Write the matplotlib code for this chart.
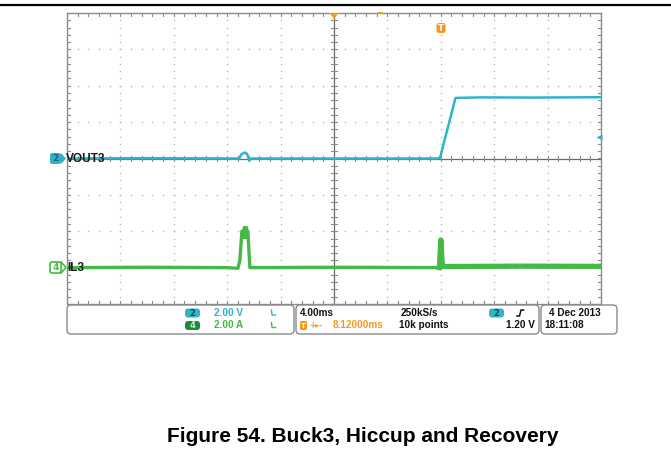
import matplotlib
matplotlib.use("Agg")
import matplotlib.pyplot as plt
from matplotlib.patches import FancyBboxPatch, Polygon
import numpy as np

# ---------------- data (read from the scope capture) ----------------
# time axis: 4 ms/div, 10 divisions
time_div_ms = 4.0
n_xdiv = 10
n_ydiv = 8

# Channel 2: VOUT3, 2 V/div, ground at centre line
vout_t = [0.0, 6.0, 12.9, 13.05, 13.3, 13.5, 13.65, 13.8, 20.0, 27.75, 27.95, 29.1, 31.0, 35.0, 40.0]
vout_v = [0.0, 0.02, 0.0, 0.22, 0.33, 0.25, -0.12, 0.0, 0.0, 0.0, 0.06, 3.33, 3.36, 3.35, 3.37]
vout_vdiv = 2.0
vout_offset_div = 0.0

# Channel 4: IL3, 2 A/div, ground 3 divisions below centre
il_t = [0.0, 6.0, 12.0, 12.8, 12.95, 13.1, 13.55, 13.7, 20.0, 27.9, 28.0, 28.12, 28.3, 34.0, 40.0]
il_a = [0.0, 0.02, 0.0, -0.04, 0.4, 2.0, 1.95, 0.0, 0.02, 0.0, 1.52, 0.08, 0.06, 0.08, 0.07]
il_band_t = [13.05, 13.15, 13.5, 13.58]
il_band_lo = [1.3, 1.6, 1.6, 1.4]
il_band_hi = [2.0, 2.32, 2.3, 2.1]
il_adiv = 2.0
il_offset_div = -3.0

trig_level_v = 1.20

# status bar texts
ch_scales = ["2.00 V", "2.00 A"]
timebase = "4.00ms"
sample_rate = "250kS/s"
delay = "8.12000ms"
record = "10k points"
trig_text = "1.20 V"
date_text = "4 Dec 2013"
time_text = "18:11:08"
caption = "Figure 54. Buck3, Hiccup and Recovery"

# ---------------- figure ----------------
W, H = 671, 470
fig = plt.figure(figsize=(W / 100, H / 100), dpi=100)
fig.patch.set_facecolor("white")

cyan = "#2fb4c9"
green = "#45b945"
orange = "#f39a1e"
tickc = "#8c8c8c"

L, R, T, B = 67, 601, 13, 304
ax = fig.add_axes([L / W, 1 - B / H, (R - L) / W, (B - T) / H])
x0, x1 = 0.0, n_xdiv * time_div_ms
ax.set_xlim(x0, x1)
ax.set_ylim(-n_ydiv / 2, n_ydiv / 2)
ax.set_xticks([])
ax.set_yticks([])
for s in ax.spines.values():
    s.set_color("#8a8a8a")
    s.set_linewidth(1.0)
ax.patch.set_alpha(0)

# dotted graticule
minor_x = np.arange(x0, x1 + 1e-9, time_div_ms / 5)
minor_y = np.arange(-4, 4 + 1e-9, 0.2)
for i in range(1, n_xdiv):
    if i == n_xdiv // 2:
        continue
    xv = i * time_div_ms
    ax.plot([xv] * len(minor_y), minor_y, ls="none", marker="s", ms=1.0,
            mfc="#b8b8b8", mec="none", zorder=1)
for j in range(-3, 4):
    if j == 0:
        continue
    ax.plot(minor_x, [j] * len(minor_x), ls="none", marker="s", ms=1.0,
            mfc="#b8b8b8", mec="none", zorder=1)

# centre cross and ticks
xc = x1 / 2
ax.axhline(0, color="#6a6a6a", lw=0.9, zorder=2)
ax.axvline(xc, color="#6a6a6a", lw=0.9, zorder=2)
tx = 0.05 * time_div_ms
ty = 0.07
for xv in minor_x:
    ax.plot([xv, xv], [-ty, ty], color=tickc, lw=0.8, zorder=2)
    ax.plot([xv, xv], [4, 4 - ty], color=tickc, lw=0.8, zorder=2)
    ax.plot([xv, xv], [-4, -4 + ty], color=tickc, lw=0.8, zorder=2)
for yv in minor_y:
    ax.plot([xc - tx, xc + tx], [yv, yv], color=tickc, lw=0.8, zorder=2)
    ax.plot([x0, x0 + tx], [yv, yv], color=tickc, lw=0.8, zorder=2)
    ax.plot([x1, x1 - tx], [yv, yv], color=tickc, lw=0.8, zorder=2)

# traces
vy = [v / vout_vdiv + vout_offset_div for v in vout_v]
ax.plot(vout_t, vy, color=cyan, lw=1.8, zorder=4, solid_joinstyle="round")
iy = [a / il_adiv + il_offset_div for a in il_a]
split = il_t.index(27.9)
ax.plot(il_t[:split + 1], iy[:split + 1], color=green, lw=2.4, zorder=4,
        solid_joinstyle="round")
ax.plot(il_t[split:], iy[split:], color=green, lw=3.8, zorder=4,
        solid_joinstyle="round")
ax.fill_between(il_band_t, [a / il_adiv + il_offset_div for a in il_band_lo],
                [a / il_adiv + il_offset_div for a in il_band_hi],
                color=green, lw=0, zorder=4)

# trigger level arrow at right edge
ty_div = trig_level_v / vout_vdiv + vout_offset_div
ax.plot([x1 - 0.12], [ty_div], marker="<", ms=5, color=cyan, mec="none",
        zorder=5, clip_on=False)

# ---------------- overlay (pixel coordinates) ----------------
ov = fig.add_axes([0, 0, 1, 1], zorder=5)
ov.set_xlim(0, W)
ov.set_ylim(H, 0)
ov.axis("off")

ov.plot([0, W], [5, 5], color="black", lw=1.6)

# top markers
ov.add_patch(Polygon([[329.5, 13], [338.5, 13], [334, 19]], closed=True,
                     color=orange, lw=0))
ov.add_patch(FancyBboxPatch((378, 11.5), 5, 2.5, boxstyle="square,pad=0",
                            fc=orange, ec="none"))
ov.add_patch(FancyBboxPatch((436.5, 23), 9, 10, boxstyle="round,pad=0,rounding_size=2.5",
                            fc=orange, ec="none"))
ov.text(441, 28.3, "T", color="white", fontsize=6, fontweight="bold",
        ha="center", va="center")

# channel markers on the left
ov.add_patch(FancyBboxPatch((50, 153), 11, 11, boxstyle="round,pad=0,rounding_size=2",
                            fc=cyan, ec="none"))
ov.add_patch(Polygon([[61, 153], [66, 158.5], [61, 164]], closed=True, color=cyan, lw=0))
ov.text(55.5, 158.8, "2", color="#1e5f70", fontsize=6.5, fontweight="bold",
        ha="center", va="center")
ov.text(66, 158.8, "VOUT3", color="#1a1a1a", fontsize=8.6, fontweight="bold",
        ha="left", va="center", family="Liberation Sans")

ov.add_patch(FancyBboxPatch((50, 262), 11, 11, boxstyle="round,pad=0,rounding_size=2",
                            fc="white", ec=green, lw=1.2))
ov.plot([61, 66, 61], [262, 267.5, 273], color=green, lw=1.2)
ov.text(55.5, 267.8, "4", color=green, fontsize=6.5, fontweight="bold",
        ha="center", va="center")
ov.text(67, 267.8, "IL3", color="#1a1a1a", fontsize=8.6, fontweight="bold",
        ha="left", va="center", family="Liberation Sans")

# status boxes
for bx0, bx1 in [(67, 294), (296, 539), (541, 617)]:
    ov.add_patch(FancyBboxPatch((bx0, 305), bx1 - bx0, 29,
                                boxstyle="round,pad=0,rounding_size=4",
                                fc="white", ec="#8a8a8a", lw=1.0))

sfs = 7.2
sfam = "Liberation Sans"
r1, r2 = 313, 325.5
ov.add_patch(FancyBboxPatch((185, r1 - 4.5), 15, 9, boxstyle="round,pad=0,rounding_size=3",
                            fc=cyan, ec="none"))
ov.text(192.5, r1, "2", color="#14465a", fontsize=6, fontweight="bold", ha="center", va="center")
ov.add_patch(FancyBboxPatch((185, r2 - 4.5), 15, 9, boxstyle="round,pad=0,rounding_size=3",
                            fc="#1f8a3a", ec="none"))
ov.text(192.5, r2, "4", color="#c8f0c8", fontsize=6, fontweight="bold", ha="center", va="center")
ov.text(214, r1, ch_scales[0], color=cyan, fontsize=sfs, fontweight="bold",
        ha="left", va="center", family=sfam)
ov.text(214, r2, ch_scales[1], color=green, fontsize=sfs, fontweight="bold",
        ha="left", va="center", family=sfam)
ov.plot([271.5, 272, 275.5], [r1 - 3, r1 + 2, r1 + 2], color=cyan, lw=1.0)
ov.plot([271.5, 272, 275.5], [r2 - 3, r2 + 2, r2 + 2], color=green, lw=1.0)

ov.text(300, r1, timebase, color="#111111", fontsize=sfs, fontweight="bold",
        ha="left", va="center", family=sfam)
ov.text(401, r1, sample_rate, color="#111111", fontsize=sfs, fontweight="bold",
        ha="left", va="center", family=sfam)
ov.add_patch(FancyBboxPatch((489, r1 - 4.5), 15, 9, boxstyle="round,pad=0,rounding_size=3",
                            fc=cyan, ec="none"))
ov.text(496.5, r1, "2", color="#14465a", fontsize=6, fontweight="bold", ha="center", va="center")
ov.plot([517, 519.5, 521, 523.5], [r1 + 3, r1 + 3, r1 - 3, r1 - 3], color="#111111", lw=1.1)

ov.add_patch(FancyBboxPatch((300, r2 - 4.5), 7, 9, boxstyle="round,pad=0,rounding_size=1.5",
                            fc=orange, ec="none"))
ov.text(303.5, r2, "T", color="white", fontsize=5, fontweight="bold", ha="center", va="center")
ov.text(309, r2, "+\u25b8-", color=orange, fontsize=5.5, fontweight="bold",
        ha="left", va="center", family="DejaVu Sans")
ov.text(333, r2, delay, color=orange, fontsize=sfs, fontweight="bold",
        ha="left", va="center", family=sfam)
ov.text(399, r2, record, color="#111111", fontsize=sfs, fontweight="bold",
        ha="left", va="center", family=sfam)
ov.text(535, r2, trig_text, color="#111111", fontsize=sfs, fontweight="bold",
        ha="right", va="center", family=sfam)

ov.text(549, r1, date_text, color="#111111", fontsize=sfs, fontweight="bold",
        ha="left", va="center", family=sfam)
ov.text(544, r2, time_text, color="#111111", fontsize=sfs, fontweight="bold",
        ha="left", va="center", family=sfam)

# caption
ov.text(363, 437, caption, color="black", fontsize=15, fontweight="bold",
        ha="center", va="center", family="Liberation Sans")

fig.savefig("out.png", dpi=100)
